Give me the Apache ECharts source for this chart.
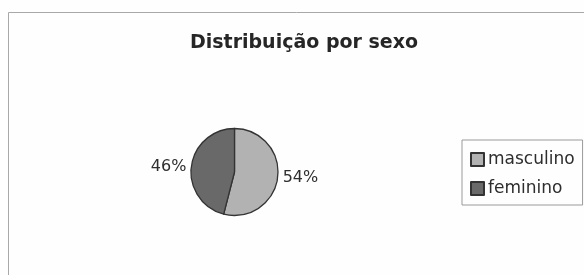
<!DOCTYPE html>
<html>
<head>
<meta charset="utf-8">
<script src="https://cdn.jsdelivr.net/npm/echarts@6/dist/echarts.min.js"></script>
<style>
  html, body { margin: 0; padding: 0; background: #fff; }
  #main { width: 584px; height: 275px; }
</style>
</head>
<body>
<div id="main"></div>
<script>
// dados do gráfico
var categorias = ['masculino', 'feminino'];
var valores = [54, 46];
var cores = ['#b2b2b2', '#696969'];

var myChart = echarts.init(document.getElementById('main'));

var dados = categorias.map(function (c, i) {
    return { name: c, value: valores[i], itemStyle: { color: cores[i] } };
});

myChart.setOption({
    backgroundColor: '#fefefe',
    animation: false,
    title: {
        text: 'Distribuição por sexo',
        left: 299,
        top: 29,
        textAlign: 'center',
        textStyle: { fontFamily: 'DejaVu Sans', fontSize: 19, fontWeight: 'bold', color: '#262626' }
    },
    legend: {
        orient: 'vertical',
        left: 462,
        top: 140,
        data: categorias,
        itemWidth: 13,
        itemHeight: 13,
        itemGap: 12,
        padding: [11, 8, 8, 8],
        borderColor: '#9a9a9a',
        borderWidth: 1,
        icon: 'rect',
        textStyle: { fontFamily: 'DejaVu Sans', fontSize: 17, lineHeight: 17, color: '#2e2e2e', padding: [0, 0, 0, -1] }
    },
    graphic: [{
        type: 'rect',
        shape: { x: 8.5, y: 12.5, width: 620, height: 300 },
        style: { fill: 'none', stroke: '#a8a8a8', lineWidth: 1 },
        silent: true
    }],
    series: [{
        type: 'pie',
        center: [234.5, 172],
        radius: 43.5,
        startAngle: 90,
        clockwise: true,
        data: dados,
        itemStyle: { borderColor: '#333', borderWidth: 1.3 },
        label: {
            show: true,
            position: 'outside',
            formatter: '{d}%',
            fontFamily: 'DejaVu Sans',
            fontSize: 16,
            color: '#2e2e2e'
        },
        labelLine: { show: false, length: 0, length2: 0 },
        emphasis: { disabled: true }
    }]
});
</script>
</body>
</html>
